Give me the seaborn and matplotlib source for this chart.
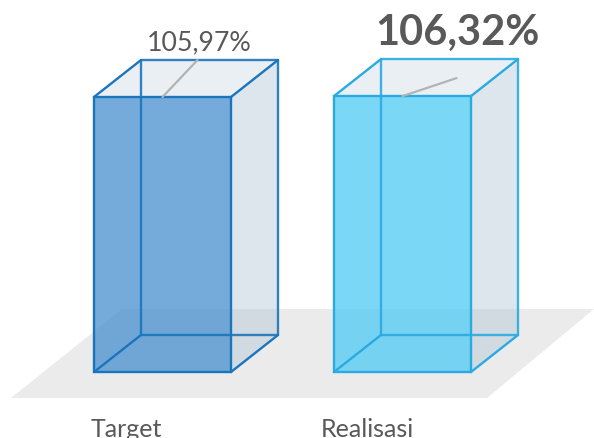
import matplotlib
matplotlib.use("Agg")
import matplotlib.pyplot as plt
from matplotlib.colors import to_rgba
from matplotlib.patches import Polygon
import pandas as pd
import seaborn as sns

categories = ["Target", "Realisasi"]
values = [105.97, 106.32]
value_labels = ["105,97%", "106,32%"]
edge_colors = ["#1B75BC", "#29ABE2"]
fill_colors = ["#468FCE", "#4FCAF4"]

sns.set_theme(style="white")
plt.rcParams["font.family"] = ["Lato", "DejaVu Sans"]

W, H = 594, 438
BASE_PX = 372          # baseline of the front faces
PX_PER_UNIT = 2.595    # pixels per percentage point
PX_PER_CAT = 240
FIRST_PX = 162.5
LW = 1.7

fig = plt.figure(figsize=(W / 100, H / 100), dpi=100)
ax = fig.add_axes([0, 0, 1, 1])

df = pd.DataFrame({"kategori": categories, "nilai": values})
palette = {c: to_rgba(f, 0.75) for c, f in zip(categories, fill_colors)}
sns.barplot(data=df, x="kategori", y="nilai", hue="kategori", palette=palette,
            width=137 / PX_PER_CAT, saturation=1, legend=False, ax=ax, zorder=5)

ax.set_xlim(-FIRST_PX / PX_PER_CAT, (W - FIRST_PX) / PX_PER_CAT)
ax.set_ylim(-(H - BASE_PX) / PX_PER_UNIT, BASE_PX / PX_PER_UNIT)
ax.axis("off")

# grey floor, in axes fractions
floor_px = [(122, 309), (594, 309), (487, 398), (11, 398)]
ax.add_patch(Polygon([(x / W, 1 - y / H) for x, y in floor_px], closed=True,
                     transform=ax.transAxes, fc="#EBEBEB", ec="none", zorder=0))

dx = 47 / PX_PER_CAT
dy = 37 / PX_PER_UNIT
bars = list(ax.patches)[:2]
for bar, edge, val, label, i in zip(bars, edge_colors, values, value_labels, range(2)):
    x0 = bar.get_x()
    x1 = x0 + bar.get_width()
    top = bar.get_height()
    bar.set_edgecolor(edge)
    bar.set_linewidth(LW)

    # top and right faces of the box
    ax.add_patch(Polygon([(x0, top), (x1, top), (x1 + dx, top + dy), (x0 + dx, top + dy)],
                         fc="#EAEFF4", ec="none", zorder=1))
    ax.add_patch(Polygon([(x1, 0), (x1, top), (x1 + dx, top + dy), (x1 + dx, dy)],
                         fc=to_rgba("#ACBED2", 0.4), ec="none", zorder=1))

    # back edges still show through the front fill
    ax.plot([x0 + dx, x0 + dx, x1 + dx, x1 + dx, x0 + dx],
            [dy, top + dy, top + dy, dy, dy], color=edge, lw=LW, alpha=0.9, zorder=6)
    for xe, ye in [(x0, 0), (x1, 0), (x0, top), (x1, top)]:
        ax.plot([xe, xe + dx], [ye, ye + dy], color=edge, lw=LW, zorder=6,
                solid_capstyle="round")

    # leader line from the front edge
    xc = x0 + bar.get_width() / 2
    lx, ly = [(35, 37), (54, 18)][i]
    ax.plot([xc, xc + lx / PX_PER_CAT], [top, top + ly / PX_PER_UNIT],
            color="#B3B3B3", lw=1.6, zorder=7)

ax.text(0 + 37 / PX_PER_CAT, values[0] + 47 / PX_PER_UNIT, value_labels[0], ha="center",
        va="baseline", fontsize=19.3, color="#595959")
ax.text(1 + 54.5 / PX_PER_CAT, values[1] + 51 / PX_PER_UNIT, value_labels[1], ha="center",
        va="baseline", fontsize=30, fontweight="bold", color="#595959")

for pos, cat, off in zip(range(2), categories, [-71.5, -81.5]):
    ax.text(pos + off / PX_PER_CAT, -(437 - BASE_PX) / PX_PER_UNIT, cat, ha="left",
            va="baseline", fontsize=18, color="#595959")

fig.savefig("out.png", dpi=100)
